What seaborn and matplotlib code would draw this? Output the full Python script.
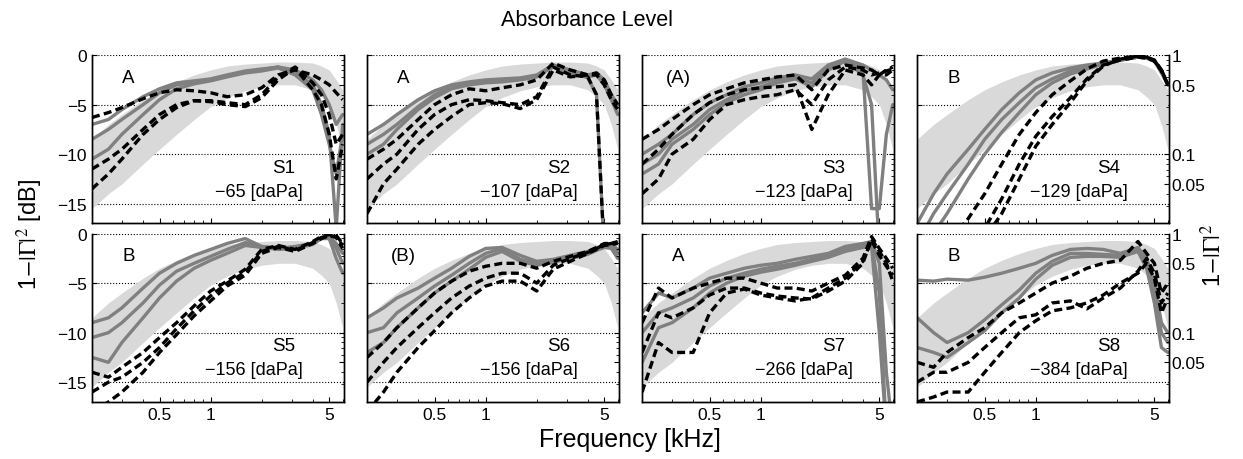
import matplotlib
matplotlib.use('Agg')
import matplotlib.pyplot as plt
import pandas as pd
import seaborn as sns
from matplotlib.ticker import LogLocator, NullFormatter

# frequency grid (kHz) shared by all curves
FREQ = [0.2, 0.25, 0.3, 0.4, 0.5, 0.63, 0.8, 1.0, 1.25, 1.6, 2.0, 2.5, 3.15, 4.0, 4.5, 5.0, 5.5, 6.0]

# normative range (shaded)
BAND_HI = [-8.5, -7, -6, -4.5, -3.5, -2.7, -2, -1.5, -1.1, -0.9, -0.8, -0.7, -0.7, -0.8, -1.1, -1.5, -2.5, -3.5]
BAND_LO = [-15.5, -14, -13, -11, -9.5, -8, -6.5, -5.2, -4.3, -3.6, -3.2, -3, -3, -3.5, -4.2, -5, -7, -9.5]

LETTERS = ['A', 'A', '(A)', 'B', 'B', '(B)', 'A', 'B']
SUBJECTS = ['S1', 'S2', 'S3', 'S4', 'S5', 'S6', 'S7', 'S8']
PRESSURE = [-65, -107, -123, -129, -156, -156, -266, -384]

S1_SOLID = [
    [-7, -6.5, -5.5, -4.2, -3.4, -2.8, -2.6, -2.4, -2.0, -1.6, -1.4, -1.2, -1.5, -2.5, -3.5, -5, -7, -6],
    [-8.5, -7.5, -6.5, -5, -3.8, -3.0, -2.7, -2.5, -2.1, -1.7, -1.5, -1.2, -1.8, -3, -5, -8, -17.5, -7],
    [-10.5, -9.5, -8, -6, -4.5, -3.4, -2.9, -2.6, -2.2, -1.8, -1.6, -1.3, -2, -3.5, -6, -9, -12, -8],
]
S1_DASHED = [
    [-6.3, -5.8, -5.3, -4.4, -3.8, -3.5, -3.6, -3.8, -4.2, -4.0, -3.3, -2.0, -1.5, -2.0, -2.5, -3, -3.8, -4.5],
    [-11.5, -10.5, -9.5, -7.5, -6, -5, -4.6, -4.6, -4.8, -5.0, -4.0, -2.2, -1.2, -2.8, -4, -6, -9, -8],
    [-13.5, -12, -10.5, -8, -6.5, -5.3, -4.6, -4.7, -5.0, -5.2, -4.3, -2.5, -1.3, -3.5, -5, -8, -12.5, -9],
]
S2_SOLID = [
    [-8, -7, -6, -4.5, -3.6, -3.0, -2.7, -2.5, -2.4, -2.3, -2.0, -1.0, -1.5, -2.0, -1.8, -2.5, -4, -5],
    [-9, -8, -7, -5.2, -4.0, -3.2, -2.9, -2.7, -2.6, -2.4, -2.1, -1.2, -1.8, -2.2, -2.0, -3.0, -4.5, -6],
    [-10, -9, -7.5, -5.5, -4.3, -3.4, -3.0, -2.8, -2.7, -2.5, -2.2, -1.0, -1.7, -2.3, -4, -20, -20, -20],
]
S2_DASHED = [
    [-10.5, -9.5, -8.5, -6.5, -5, -4.0, -3.4, -3.6, -3.3, -3.0, -2.5, -0.8, -1.5, -2.0, -1.8, -2.5, -4, -5],
    [-12.5, -11, -10, -7.5, -6, -5, -4.5, -4.6, -4.8, -5.0, -4.2, -1.2, -2.0, -2.2, -4, -20, -20, -20],
    [-16, -13, -11.5, -9, -7.5, -6.2, -5.0, -4.8, -4.9, -5.4, -4.5, -1.5, -2.2, -2.0, -2.0, -3.0, -4.5, -5.5],
]
S3_SOLID = [
    [-10, -9, -8, -6, -4.8, -4, -3.2, -2.8, -2.3, -2.0, -2.4, -1.0, -0.4, -1.0, -1.5, -2, -2.5, -3.5],
    [-11, -10, -8.5, -7, -5.5, -4.5, -3.6, -3.2, -2.6, -2.2, -2.8, -1.2, -0.5, -1.5, -15.5, -15.5, -8, -5],
    [-12, -11, -9, -7.5, -6, -4.8, -4.0, -3.5, -2.8, -2.4, -3.2, -1.5, -0.6, -2.0, -5, -20, -20, -20],
]
S3_DASHED = [
    [-8.5, -7.5, -6.5, -5, -4, -3.4, -2.8, -2.5, -2.2, -2.0, -3.5, -1.5, -1.0, -1.3, -1.5, -2.0, -1.5, -1.2],
    [-11, -9.5, -8, -6, -4.8, -4.0, -3.5, -3.3, -3.2, -3.0, -7.5, -4, -1.5, -2.0, -3.0, -2.0, -2.0, -1.5],
    [-14, -12.5, -10, -8.5, -6.5, -5.0, -4.5, -4.2, -4.0, -3.5, -5.0, -2.5, -1.2, -1.5, -2.0, -1.8, -1.6, -1.4],
]
S4_SOLID = [
    [-17, -14, -12, -9.5, -7.5, -5.5, -3.8, -2.5, -1.8, -1.3, -1.0, -0.8, -0.5, -0.2, -0.3, -0.5, -1.5, -3],
    [-19, -16, -14, -11, -8.5, -6.5, -4.8, -3.3, -2.4, -1.6, -1.2, -0.8, -0.5, -0.2, -0.3, -0.6, -1.5, -3],
    [-20, -18, -16, -12.5, -10, -7.8, -5.8, -4.0, -2.8, -1.9, -1.4, -0.9, -0.5, -0.2, -0.3, -0.6, -1.8, -3],
]
S4_DASHED = [
    [-22, -21, -19, -16.5, -14, -11, -8, -5.8, -4.0, -2.6, -1.4, -0.6, -0.3, -0.1, -0.2, -0.5, -1.5, -3],
    [-24, -23, -21, -19, -17.5, -14.5, -11, -8.2, -6.2, -4.3, -2.4, -1.0, -0.5, -0.2, -0.3, -0.6, -1.6, -3],
    [-25, -24, -22, -20, -18.5, -16, -12.5, -9.2, -7.0, -4.8, -2.6, -1.1, -0.4, -0.1, -0.2, -0.6, -1.5, -3],
]
S5_SOLID = [
    [-9, -8.5, -7.5, -5.5, -4.0, -3.0, -2.2, -1.6, -1.0, -0.5, -1.3, -1.5, -1.3, -1.0, -0.4, -0.3, -1.0, -2],
    [-10.5, -10, -9, -7, -5.2, -3.8, -3.0, -2.3, -1.6, -0.9, -1.3, -1.5, -1.4, -1.0, -0.5, -0.4, -1.5, -3],
    [-12.5, -13, -11, -8.5, -6.5, -4.8, -3.5, -2.7, -2.0, -1.2, -1.4, -1.6, -1.5, -1.1, -0.5, -0.5, -2.5, -4],
]
S5_DASHED = [
    [-14, -14.5, -13.5, -12, -10.5, -9, -7.3, -5.8, -4.8, -3.6, -1.6, -1.2, -1.6, -0.8, -0.3, -0.1, -0.2, -1],
    [-16, -15, -14.5, -13, -11.5, -9.6, -7.8, -6.3, -5.0, -3.9, -1.8, -1.3, -1.7, -0.9, -0.4, -0.2, -0.3, -1.2],
    [-18, -17, -16, -14, -12, -10.2, -8.3, -6.8, -5.3, -4.2, -2.0, -1.4, -1.8, -1.0, -0.5, -0.2, -0.4, -1.5],
]
S6_SOLID = [
    [-8.5, -7.5, -6.5, -5.5, -4.5, -3.5, -2.3, -1.5, -1.4, -2.2, -2.8, -2.6, -2.2, -1.8, -1.5, -1.2, -1.0, -1.6],
    [-10, -9.5, -8, -6.5, -5.3, -4.2, -3.0, -2.0, -1.5, -2.6, -3.0, -2.8, -2.4, -2.0, -1.6, -1.3, -1.2, -2.0],
    [-12, -11, -9.5, -7.5, -6.0, -4.8, -3.6, -2.4, -1.8, -2.8, -3.2, -2.9, -2.5, -2.1, -1.7, -1.4, -1.5, -2.5],
]
S6_DASHED = [
    [-12.5, -11, -9.5, -7.5, -6.0, -4.8, -3.8, -3.3, -3.0, -3.0, -3.5, -2.8, -2.3, -1.8, -1.4, -1.0, -1.0, -0.8],
    [-15, -13, -11.5, -9.5, -8.0, -6.5, -5.3, -4.5, -4.0, -4.0, -5.0, -3.2, -2.5, -1.9, -1.5, -1.1, -1.0, -0.9],
    [-18, -16, -14, -11.5, -9.8, -8.0, -6.5, -5.3, -4.8, -4.8, -5.8, -3.6, -2.8, -2.0, -1.6, -1.2, -1.1, -1.0],
]
S7_SOLID = [
    [-8, -6, -6.5, -5.5, -4.5, -4.0, -3.5, -3.2, -3.0, -2.6, -2.3, -2.0, -1.3, -1.0, -0.8, -3, -14, -20],
    [-10, -8, -7.5, -6.5, -5.3, -4.5, -4.0, -3.6, -3.3, -3.0, -2.6, -2.2, -1.6, -1.2, -1.0, -6, -20, -20],
    [-13, -9.5, -9, -7.5, -6.0, -5.0, -4.3, -3.9, -3.6, -3.2, -2.8, -2.4, -1.8, -1.4, -1.3, -10, -20, -20],
]
S7_DASHED = [
    [-9, -5.5, -6.5, -5.5, -5.0, -4.5, -4.5, -5.0, -5.5, -5.5, -5.8, -5.0, -4.2, -2.5, -0.3, -1.5, -2.5, -3.5],
    [-12, -8, -8.5, -7.5, -6.2, -5.5, -5.5, -6.0, -6.3, -6.5, -6.6, -5.8, -4.8, -3.0, -0.5, -1.8, -3.0, -4.8],
    [-16, -11, -12, -12, -8.0, -6.0, -5.6, -6.2, -6.5, -6.8, -6.5, -5.5, -4.5, -2.8, -0.7, -2.2, -3.3, -4.2],
]
S8_SOLID = [
    [-4.7, -4.8, -4.6, -4.7, -4.4, -4.0, -3.5, -3.0, -2.2, -1.6, -1.5, -1.6, -2.0, -1.4, -2.5, -5, -9, -10],
    [-8.5, -10, -11, -10, -8.7, -7.2, -5.7, -4.0, -2.8, -2.0, -2.0, -2.1, -2.2, -1.6, -3.0, -6, -10, -11],
    [-11.5, -12, -12.5, -11, -9.8, -8.0, -6.5, -4.6, -3.2, -2.4, -2.3, -2.3, -2.4, -1.8, -3.5, -7, -11.5, -12],
]
S8_DASHED = [
    [-13, -13.5, -12, -10.5, -9.5, -8, -7, -6.0, -5.0, -4.3, -3.5, -3.0, -2.7, -0.8, -2.0, -3.0, -6.0, -5.0],
    [-15, -14, -14, -13, -11.5, -10, -8.5, -8.2, -7.0, -6.8, -7.6, -6.5, -5.5, -3.8, -2.5, -4.0, -7.0, -6.0],
    [-17, -16.5, -16, -16, -14, -12, -10, -8.8, -7.8, -7.5, -7.0, -6.2, -5.0, -4.0, -3.0, -4.5, -8.0, -6.5],
]

SOLID = [S1_SOLID, S2_SOLID, S3_SOLID, S4_SOLID, S5_SOLID, S6_SOLID, S7_SOLID, S8_SOLID]
DASHED = [S1_DASHED, S2_DASHED, S3_DASHED, S4_DASHED, S5_DASHED, S6_DASHED, S7_DASHED, S8_DASHED]


def long_form(curves, kind):
    rows = []
    for k, c in enumerate(curves):
        for f, v in zip(FREQ, c):
            rows.append((f, v, f'{kind}{k}', kind))
    return pd.DataFrame(rows, columns=['freq', 'db', 'curve', 'kind'])


sns.set_style('ticks')
plt.rcParams['font.family'] = ['Liberation Sans', 'DejaVu Sans']
plt.rcParams['mathtext.fontset'] = 'stix'
plt.rcParams.update({
    'axes.edgecolor': 'black', 'axes.linewidth': 1.0,
    'xtick.color': 'black', 'ytick.color': 'black',
    'text.color': 'black', 'axes.labelcolor': 'black',
})

fig, axs = plt.subplots(2, 4, figsize=(12.43, 4.6), dpi=100, sharex=True, sharey=True)
fig.subplots_adjust(left=0.074, right=0.9405, top=0.878, bottom=0.124, wspace=0.092, hspace=0.06)

for i, ax in enumerate(axs.flat):
    row, col = divmod(i, 4)
    ax.fill_between(FREQ, BAND_LO, BAND_HI, color='#d9d9d9', lw=0, zorder=1)
    sns.lineplot(data=long_form(SOLID[i], 'solid'), x='freq', y='db', units='curve',
                 estimator=None, sort=False, color='#808080', lw=2.4, legend=False, ax=ax, zorder=2)
    sns.lineplot(data=long_form(DASHED[i], 'dashed'), x='freq', y='db', units='curve',
                 estimator=None, sort=False, style='kind', dashes={'dashed': (2.4, 1.3)},
                 color='black', lw=2.4, legend=False, ax=ax, zorder=3)
    ax.set_xscale('log')
    ax.set_xlim(0.2, 6.1)
    ax.set_ylim(-17, 0)
    ax.set_xticks([0.5, 1, 5])
    ax.set_xticklabels(['0.5', '1', '5'])
    ax.xaxis.set_minor_locator(LogLocator(base=10, subs=range(2, 10)))
    ax.xaxis.set_minor_formatter(NullFormatter())
    ax.set_yticks([0, -5, -10, -15])
    ax.set_xlabel('')
    ax.set_ylabel('')
    ax.spines['top'].set_visible(False)
    ax.yaxis.grid(True, linestyle=':', color='black', lw=0.8)
    ax.tick_params(direction='in', which='both', labelsize=12.5, top=False)

    tw = ax.twinx()
    tw.set_yscale('log')
    tw.set_ylim(10 ** -1.7, 1)
    tw.set_yticks([0.05, 0.1, 0.5, 1])
    if col == 3:
        tw.set_yticklabels(['0.05', '0.1', '0.5', '1'])
    else:
        tw.yaxis.set_major_formatter(NullFormatter())
    tw.yaxis.set_minor_formatter(NullFormatter())
    tw.spines['top'].set_visible(False)
    tw.tick_params(direction='in', which='both', labelsize=12.5, pad=2)

    ax.text(0.145, 0.87, LETTERS[i], transform=ax.transAxes, ha='center', va='center', fontsize=13.5)
    ax.text(0.76, 0.335, SUBJECTS[i], transform=ax.transAxes, ha='center', va='center', fontsize=13.5)
    ax.text(0.835, 0.19, f'\u2212{abs(PRESSURE[i])} [daPa]', transform=ax.transAxes,
            ha='right', va='center', fontsize=13)

fig.text(0.472, 0.955, 'Absorbance Level', ha='center', va='center', fontsize=15.5)
fig.text(0.507, 0.043, 'Frequency [kHz]', ha='center', va='center', fontsize=18)
fig.text(0.024, 0.49, r'1$-|\Gamma|^2$ [dB]', ha='center', va='center', rotation=90, fontsize=17)
fig.text(0.976, 0.445, r'1$-|\Gamma|^2$', ha='center', va='center', rotation=90, fontsize=17)

fig.savefig('out.png', dpi=100)
